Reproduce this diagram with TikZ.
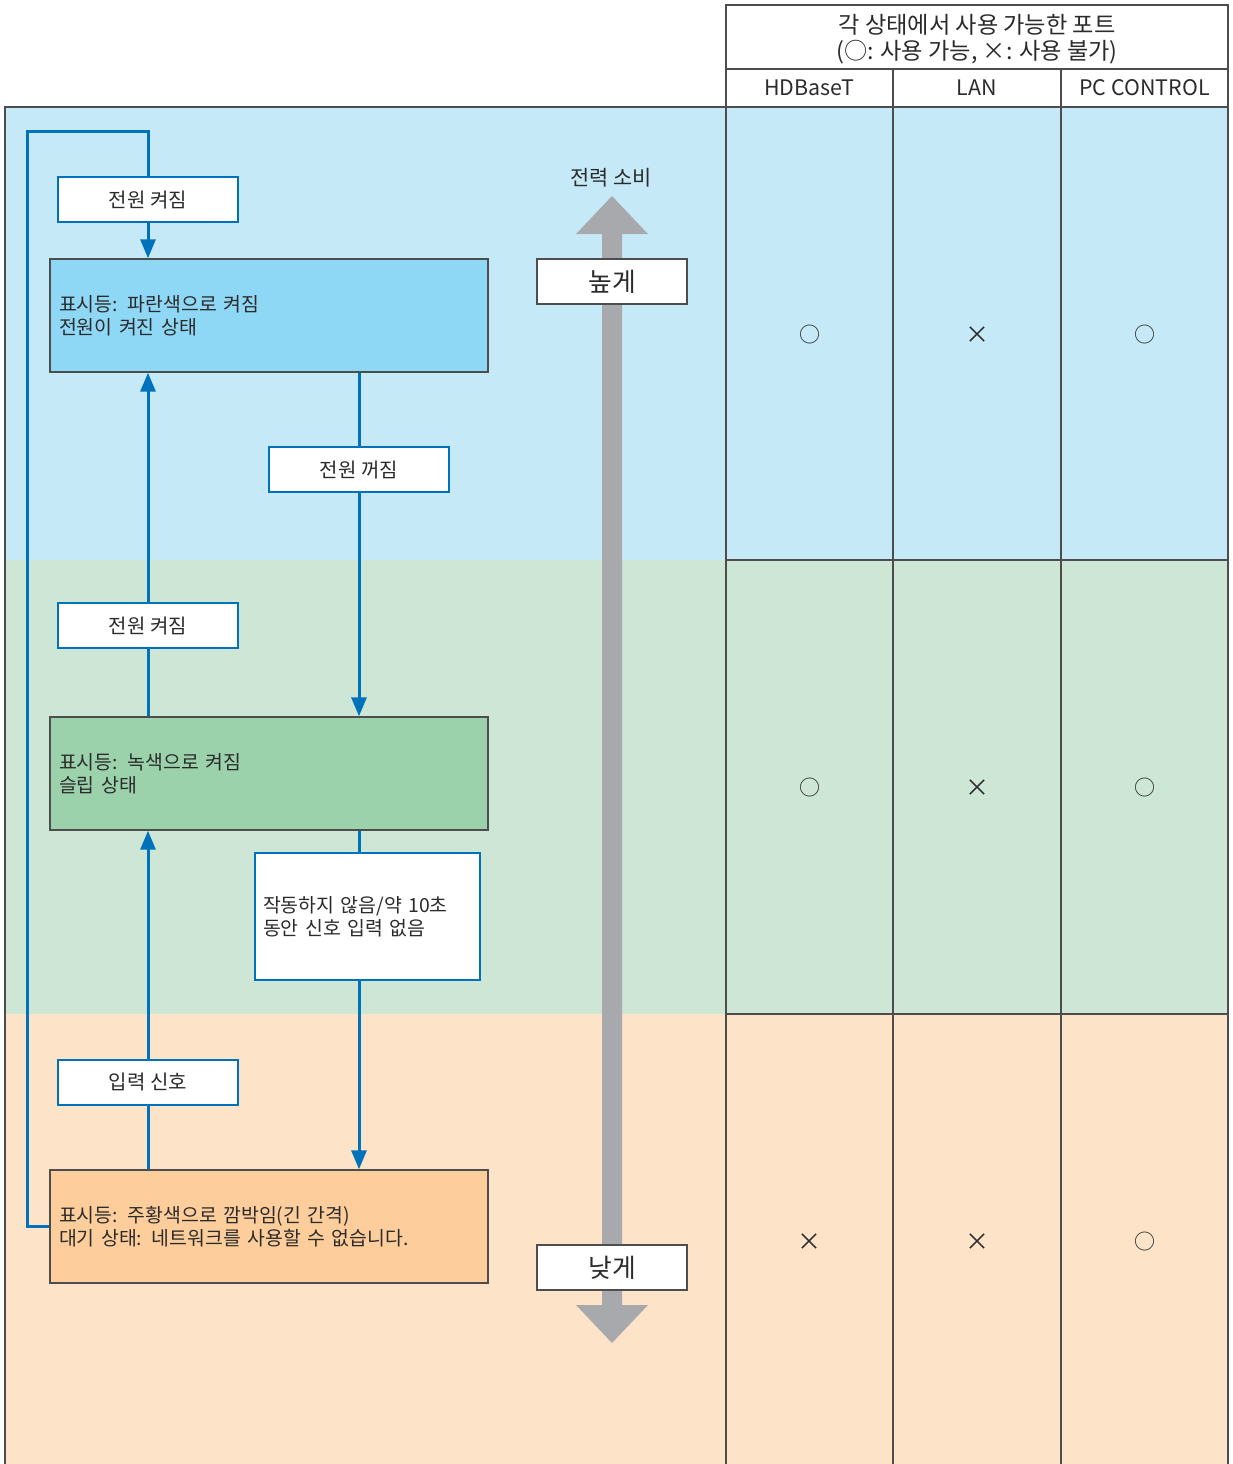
\documentclass[tikz,border=0pt]{standalone}
\usepackage{fontspec}
\setmainfont{Noto Sans CJK KR}
\usetikzlibrary{arrows.meta}
\definecolor{bandblue}{HTML}{C6E9F8}
\definecolor{bandgreen}{HTML}{CDE6D5}
\definecolor{bandorange}{HTML}{FDE3C7}
\definecolor{boxblue}{HTML}{8ED7F5}
\definecolor{boxgreen}{HTML}{9BD2AC}
\definecolor{boxorange}{HTML}{FDCE9B}
\definecolor{flow}{HTML}{0072BC}
\definecolor{pwrgray}{HTML}{A7A9AC}
\definecolor{ink}{HTML}{2B2B2B}
\definecolor{rule}{HTML}{4D4D4D}
\tikzset{
  grid/.style={draw=rule,line width=.7pt},
  ev/.style={draw=flow,fill=white,line width=.9pt,minimum width=90pt,minimum height=22.5pt,
    inner sep=0pt,text=ink,font=\fontsize{10}{11.5}\selectfont},
  st/.style={draw=rule,line width=.7pt,minimum width=219pt,minimum height=56.5pt,
    text width=210pt,inner xsep=4.5pt,align=left,text=ink,font=\fontsize{9.7}{11.5}\selectfont},
  wt/.style={draw=flow,fill=white,line width=.9pt,minimum width=112.5pt,minimum height=63.5pt,
    text width=104.5pt,inner xsep=4pt,align=left,text=ink,font=\fontsize{9.7}{11.5}\selectfont},
  lvl/.style={draw=rule,fill=white,line width=.7pt,minimum width=75pt,minimum height=22.5pt,
    inner sep=0pt,text=ink,font=\fontsize{12.9}{14}\selectfont},
  hd/.style={text=ink,align=center,font=\fontsize{11.6}{13}\selectfont},
  col/.style={text=ink,font=\fontsize{10.7}{12}\selectfont},
  mo/.style={text=ink,font=\fontsize{10.5}{12}\selectfont},
  mx/.style={text=ink,font=\fontsize{12}{12}\selectfont},
  flw/.style={draw=flow,line width=1.5pt},
  arr/.style={flw,-{Triangle[length=9.5pt,width=7.5pt]}},
}
\begin{document}
\begin{tikzpicture}[x=0.5pt,y=-0.5pt]
\useasboundingbox (0,0) rectangle (1233,1464);
% bands of the three states
\fill[bandblue] (5,107) rectangle (1228,560);
\fill[bandgreen] (5,560) rectangle (1228,1014);
\fill[bandorange] (5,1014) rectangle (1228,1464);
% port table
\draw[grid] (726,5) rectangle (1228,69);
\draw[grid] (5,1464) -- (5,107) -- (1228,107);
\foreach \x in {726,893,1061,1228} \draw[grid] (\x,69) -- (\x,1464);
\foreach \y in {560,1014} \draw[grid] (726,\y) -- (1228,\y);
\node[hd] (cap) at (977,39) {각 상태에서 사용 가능한 포트\\(○: 사용 가능, ×: 사용 불가)};
\node[col] (hdb) at (809.5,88) {HDBaseT};
\node[col] (lan) at (977,88) {LAN};
\node[col] (pcc) at (1144.5,88) {PC CONTROL};
\node[mo] (a1) at (809.5,335) {○}; \node[mx] (b1) at (977,335) {×}; \node[mo] (c1) at (1144.5,335) {○};
\node[mo] (a2) at (809.5,788) {○}; \node[mx] (b2) at (977,788) {×}; \node[mo] (c2) at (1144.5,788) {○};
\node[mx] (a3) at (809.5,1242) {×}; \node[mx] (b3) at (977,1242) {×}; \node[mo] (c3) at (1144.5,1242) {○};
% power consumption scale
\node[text=ink,font=\fontsize{10.4}{12}\selectfont] (pwr) at (611,178) {전력 소비};
\fill[pwrgray] (612,196) -- (648,234) -- (622,234) -- (622,1305) -- (648,1305) -- (612,1343)
  -- (576,1305) -- (602,1305) -- (602,234) -- (576,234) -- cycle;
\node[lvl] (hi) at (612,281.5) {높게};
\node[lvl] (lo) at (612,1267.5) {낮게};
% states and events
\node[st,fill=boxblue] (son) at (269,315.5) {표시등: 파란색으로 켜짐\\전원이 켜진 상태};
\node[st,fill=boxgreen] (ssl) at (269,773.5) {표시등: 녹색으로 켜짐\\슬립 상태};
\node[st,fill=boxorange] (sst) at (269,1226.5) {표시등: 주황색으로 깜박임(긴 간격)\\대기 상태: 네트워크를 사용할 수 없습니다.};
\node[ev] (on1) at (148,199.5) {전원 켜짐};
\node[ev] (off) at (359,469.5) {전원 꺼짐};
\node[ev] (on2) at (148,625.5) {전원 켜짐};
\node[wt] (idle) at (367.5,916.5) {작동하지 않음/약 10초\\동안 신호 입력 없음};
\node[ev] (sig) at (148,1082.5) {입력 신호};
\coordinate (lp) at (27,131);
\draw[flw] (sst.west) -| (lp) -| (on1.north);
\draw[arr] (on1.south) -- (on1.south |- son.north);
\draw[flw] (son.south -| off) -- (off.north);
\draw[arr] (off.south) -- (off.south |- ssl.north);
\draw[flw] (ssl.north -| on2) -- (on2.south);
\draw[arr] (on2.north) -- (on2.north |- son.south);
\draw[flw] (ssl.south -| off) -- (idle.north -| off);
\draw[arr] (idle.south -| off) -- (sst.north -| off);
\draw[flw] (sst.north -| sig) -- (sig.south);
\draw[arr] (sig.north) -- (sig.north |- ssl.south);
\end{tikzpicture}
\end{document}
